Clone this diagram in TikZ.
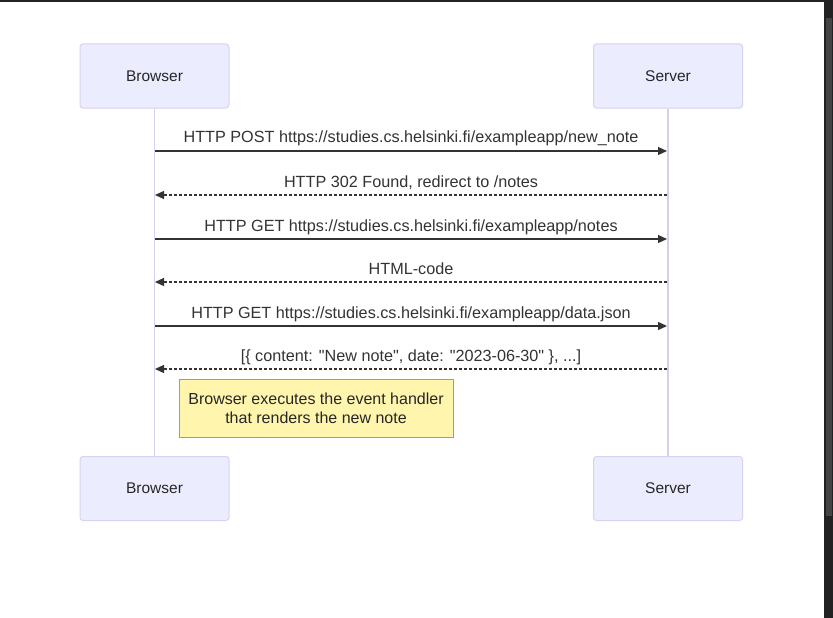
\documentclass[tikz,border=0pt]{standalone}
\usepackage{fontspec}
\setmainfont{Liberation Sans}
\newfontfamily\lib{Liberation Sans}
\usetikzlibrary{arrows.meta}
\definecolor{actfill}{HTML}{ECECFF}
\definecolor{actborder}{HTML}{D6D2F2}
\definecolor{lifeline}{HTML}{D4D0F2}
\definecolor{notefill}{HTML}{FFF5AD}
\definecolor{noteborder}{HTML}{AAAA33}
\definecolor{msg}{HTML}{333333}
\definecolor{frame}{HTML}{222222}
\definecolor{scroll}{HTML}{444444}
\tikzset{
  actor/.style={draw=actborder, fill=actfill, line width=1pt, rounded corners=3pt,
    minimum width=149pt, minimum height=64pt, inner sep=0pt,
    font=\lib\fontsize{15.5}{18}\selectfont, text=black!85},
  lline/.style={draw=lifeline, line width=1.6pt},
  call/.style={draw=msg, line width=1.2pt, -{Triangle[length=9pt,width=8pt]}},
  reply/.style={call, dash pattern=on 3pt off 2pt},
  lbl/.style={font=\lib\fontsize{16.2}{19}\selectfont, text=black!80, inner sep=0pt},
  notebox/.style={draw=noteborder, fill=notefill, line width=0.8pt,
    minimum width=274pt, minimum height=58pt, inner sep=0pt, align=center,
    font=\lib\fontsize{16}{19}\selectfont, text=black!85}
}
\begin{document}
\begin{tikzpicture}[x=1pt,y=-1pt]
\useasboundingbox (0,0) rectangle (833,618);
\fill[white] (0,0) rectangle (833,618);
% screen frame
\fill[frame] (0,0) rectangle (833,2);
\fill[frame] (824,0) rectangle (833,618);
\fill[scroll] (826,18) rectangle (832,516);
% actors
\node[actor] (bt) at (154.5,76) {Browser};
\node[actor] (st) at (668,76) {Server};
\node[actor] (bb) at (154.5,488.5) {Browser};
\node[actor] (sb) at (668,488.5) {Server};
% lifelines
\draw[lline] (bt.south) -- (bb.north);
\draw[lline] (st.south) -- (sb.north);
% message endpoints
\foreach \i/\y in {1/151,2/195,3/239,4/282,5/326,6/369}{
  \coordinate (b\i) at (155,\y);
  \coordinate (s\i) at (667,\y);
}
\draw[call] (b1) -- (s1);
\draw[reply] (s2) -- (b2);
\draw[call] (b3) -- (s3);
\draw[reply] (s4) -- (b4);
\draw[call] (b5) -- (s5);
\draw[reply] (s6) -- (b6);
\node[lbl, anchor=base] (m1) at (411,142) {HTTP POST https://studies.cs.helsinki.fi/exampleapp/new\_note};
\node[lbl, anchor=base] (m2) at (411,187) {HTTP 302 Found, redirect to /notes};
\node[lbl, anchor=base] (m3) at (411,231) {HTTP GET https://studies.cs.helsinki.fi/exampleapp/notes};
\node[lbl, anchor=base] (m4) at (411,274) {HTML-code};
\node[lbl, anchor=base] (m5) at (411,318) {HTTP GET https://studies.cs.helsinki.fi/exampleapp/data.json};
\node[lbl, anchor=base] (m6) at (411,361) {[\{ content: "New note", date: "2023-06-30" \}, ...]};
% note
\node[notebox] (note) at (316,408) {Browser executes the event handler\\that renders the new note};
\end{tikzpicture}
\end{document}
